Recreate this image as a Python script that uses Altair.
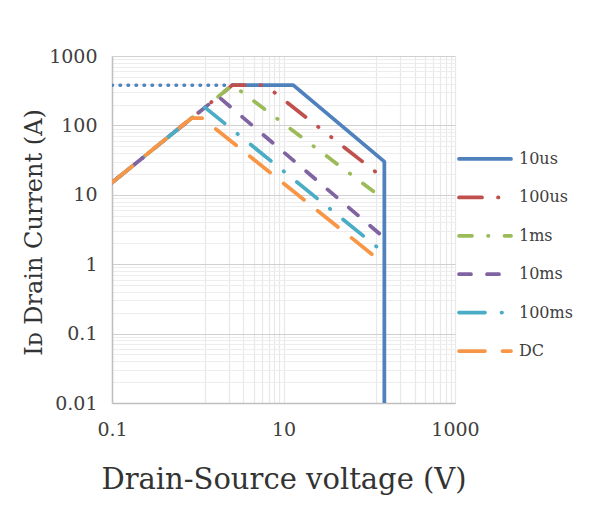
import altair as alt
import pandas as pd

# ---- data (V in volts, I in amperes) ----
series_names = ["10us", "100us", "1ms", "10ms", "100ms", "DC"]
series_colors = ["#4F81BD", "#C0504D", "#9BBB59", "#8064A2", "#4BACC6", "#F79646"]

v_10us_dot = [0.1, 2.53]
i_10us_dot = [380, 380]
v_10us = [2.53, 13, 150, 150]
i_10us = [380, 380, 30, 0.01]
v_100us = [0.1, 2.53, 6.1, 150]
i_100us = [15, 380, 380, 17]
v_1ms = [0.1, 2.55, 150]
i_1ms = [15, 382, 8.5]
v_10ms = [0.1, 1.74, 150]
i_10ms = [15, 260, 2.4]
v_100ms = [0.1, 1.21, 150]
i_100ms = [15, 182, 1.45]
v_dc = [0.1, 0.84, 1.13, 150]
i_dc = [15, 127, 127, 1.0]

# x axis: labels at 0.1, 10, 1000; minor grid lines as drawn by the source spreadsheet
x_ticks = [0.1, 1.2, 2.3, 3.4, 4.5, 5.6, 6.7, 7.8, 8.9,
           10, 120, 230, 340, 450, 560, 670, 780, 890, 1000]
y_ticks = [0.01, 0.02, 0.03, 0.04, 0.05, 0.06, 0.07, 0.08, 0.09,
           0.1, 0.2, 0.3, 0.4, 0.5, 0.6, 0.7, 0.8, 0.9,
           1, 2, 3, 4, 5, 6, 7, 8, 9,
           10, 20, 30, 40, 50, 60, 70, 80, 90,
           100, 200, 300, 400, 500, 600, 700, 800, 900, 1000]

# ---- styles ----
dashes = {
    "10us": None,
    "100us": [23, 16, 0.5, 16, 0.5, 16],
    "1ms": [13, 16, 0.5, 16],
    "10ms": [12, 16],
    "100ms": [26, 16.5, 0.5, 16.5],
    "DC": [26, 17.5],
}
color_of = dict(zip(series_names, series_colors))
FONT = "DejaVu Serif"
TXT = "#404040"
LW = 3.75

is_decade = "abs(log(datum.value)/LN10 - round(log(datum.value)/LN10)) < 0.001"
y_grid_color = {"condition": {"test": is_decade, "value": "#D0D0D0"}, "value": "#EDEDED"}
label_expr = f"({is_decade}) ? format(datum.value, '~g') : ''"

x_axis = alt.Axis(values=x_ticks, labelExpr=label_expr, gridColor="#E8E8E8", gridWidth=1.2,
                  ticks=False, domainColor="#BFBFBF", domainWidth=1.5,
                  labelFont=FONT, labelFontSize=19, labelColor=TXT, labelPadding=17,
                  labelFlush=False, labelOverlap=False,
                  title="Drain-Source voltage (V)", titleFont=FONT, titleFontSize=29,
                  titleFontWeight="normal", titleColor="#333333",
                  titleY=85, titleBaseline="alphabetic")
y_axis = alt.Axis(values=y_ticks, labelExpr=label_expr, gridColor=y_grid_color, gridWidth=1.2,
                  ticks=False, domainColor="#BFBFBF", domainWidth=1.5,
                  labelFont=FONT, labelFontSize=19, labelColor=TXT, labelPadding=15,
                  labelFlush=False, labelOverlap=False,
                  title="I\u1d05 Drain Current (A)", titleFont=FONT, titleFontSize=24,
                  titleFontWeight="normal", titleColor="#333333",
                  titleX=-78, titleY=176, titleAngle=270, titleBaseline="middle")

xs = alt.Scale(type="log", domain=[0.1, 1000], nice=False)
ys = alt.Scale(type="log", domain=[0.01, 1000], nice=False)


def frame(name, vs, is_):
    return pd.DataFrame({"series": name, "v": vs, "i": is_, "ord": list(range(len(vs)))})


curves = [
    ("10us", v_10us_dot, i_10us_dot, [0.5, 7.5], 3.5),
    ("10us", v_10us, i_10us, None, LW),
    ("100us", v_100us, i_100us, dashes["100us"], LW),
    ("1ms", v_1ms, i_1ms, dashes["1ms"], LW),
    ("10ms", v_10ms, i_10ms, dashes["10ms"], LW),
    ("100ms", v_100ms, i_100ms, dashes["100ms"], LW),
    ("DC", v_dc, i_dc, dashes["DC"], LW),
]

layers = []
for name, vs, is_, dash, w in curves:
    kw = dict(strokeWidth=w, strokeCap="round", strokeJoin="round", color=color_of[name], clip=True)
    if dash:
        kw["strokeDash"] = dash
    layers.append(
        alt.Chart(frame(name, vs, is_)).mark_line(**kw).encode(
            x=alt.X("v:Q", scale=xs, axis=x_axis),
            y=alt.Y("i:Q", scale=ys, axis=y_axis),
            order="ord:Q",
        )
    )

main = alt.layer(*layers).properties(width=343, height=347)

# ---- legend panel ----
leg_df = pd.DataFrame({"series": series_names, "idx": list(range(len(series_names)))})
yleg = alt.Scale(domain=[-2.682, 6.354], nice=False, zero=False, reverse=True)
leg_layers = []
for name in series_names:
    base = alt.Chart(leg_df).transform_filter(alt.datum.series == name)
    kw = dict(strokeWidth=LW, strokeCap="round", color=color_of[name])
    if dashes[name]:
        kw["strokeDash"] = dashes[name]
    leg_layers.append(base.mark_rule(**kw).encode(
        x=alt.value(4), x2=alt.value(56), y=alt.Y("idx:Q", scale=yleg, axis=None)))
    leg_layers.append(base.mark_text(align="left", baseline="middle", font=FONT,
                                     fontSize=16, color=TXT).encode(
        x=alt.value(64), y=alt.Y("idx:Q", scale=yleg, axis=None), text="series:N"))
legend = alt.layer(*leg_layers).properties(width=125, height=347)

chart = alt.hconcat(main, legend, spacing=0, bounds="flush").properties(
    padding={"left": 14, "top": 39, "right": 2, "bottom": 5},
    background="white",
).configure_view(stroke=None)

chart.save("out.html", embed_options={"renderer": "svg", "actions": False})
